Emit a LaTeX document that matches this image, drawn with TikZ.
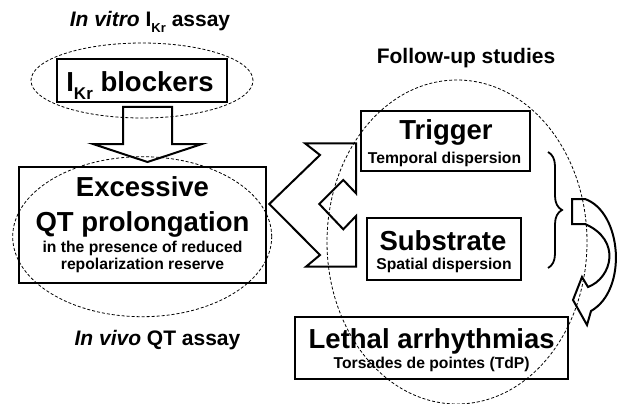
\documentclass[tikz,border=0pt]{standalone}
\usepackage{fontspec}
\setmainfont{Liberation Sans}
\usetikzlibrary{decorations.pathreplacing}
\newcommand{\fsz}[1]{\fontsize{#1}{#1}\selectfont}
\tikzset{
  box/.style={draw, line width=2pt, inner sep=0pt},
  lbl/.style={anchor=base, inner sep=0pt, font=\bfseries},
  zone/.style={dash pattern=on 3pt off 2pt, line width=0.8pt},
  blk/.style={draw, line width=2pt, line join=miter, fill=white}
}
\begin{document}
\begin{tikzpicture}[x=1pt, y=-1pt]
\useasboundingbox (0,0) rectangle (619,404);
\node[lbl] at (150,27) (vitro) {\fsz{21}\textit{In vitro} I\raisebox{-0.25em}{\fsz{13}Kr} assay};
\node[lbl] at (157.5,345) (vivo) {\fsz{21}\textit{In vivo} QT assay};
\node[lbl] at (466,64) (follow) {\fsz{21}Follow-up studies};
\node[box, minimum width=170pt, minimum height=43pt] at (142,80.5) (blockers) {};
\node[lbl] at (140,91.7) (blockerstxt) {\fsz{27.5}I\raisebox{-0.28em}{\fsz{17}Kr} blockers};
\node[box, minimum width=247pt, minimum height=116pt] at (142.5,225) (excess) {};
\node[lbl] at (142.5,196.7) (excess1) {\fsz{27.5}Excessive};
\node[lbl] at (142.5,231.7) (excess2) {\fsz{27.5}QT prolongation};
\node[lbl] at (142.5,252.7) (excess3) {\fsz{15.7}in the presence of reduced};
\node[lbl] at (142.5,269.5) (excess4) {\fsz{15.7}repolarization reserve};
\node[box, minimum width=169pt, minimum height=60pt] at (445.5,141) (trigger) {};
\node[lbl] at (446,139.3) (trigger1) {\fsz{27.5}Trigger};
\node[lbl] at (444.5,163.3) (trigger2) {\fsz{15.7}Temporal dispersion};
\node[box, minimum width=154pt, minimum height=62pt] at (444,249) (substrate) {};
\node[lbl] at (443,250) (substrate1) {\fsz{27.5}Substrate};
\node[lbl] at (444,269.3) (substrate2) {\fsz{15.7}Spatial dispersion};
\node[box, minimum width=273pt, minimum height=62pt] at (431.5,348) (lethal) {};
\node[lbl] at (431.7,348.3) (lethal1) {\fsz{27.5}Lethal arrhythmias};
\node[lbl] at (431.7,368.3) (lethal2) {\fsz{15.7}Torsades de pointes (TdP)};
\draw[blk] (123,107) -- (172,107) -- (172,144) -- (202,144) -- (147.5,162) -- (93,144) -- (123,144) -- cycle;
\draw[blk] (305,143.3) -- (356,143.3) -- (356,193.3) -- (343.3,180) -- (319.3,204) -- (343.3,229.3) -- (356,216) -- (356,266.7) -- (306,266.7) -- (320,255) -- (269.3,204) -- (320,155) -- cycle;
\draw[line width=1.8pt, decorate, decoration={brace, amplitude=14pt}] (548,152) -- (548,268);
\draw[blk] (572,199) -- (585,199) .. controls (622,212) and (628,290) .. (591,311) -- (587,325) -- (573,300) -- (582,277) -- (588,287) .. controls (612,278) and (622,240) .. (585,224) -- (572,224) -- cycle;
\draw[zone] (142,80.5) ellipse [x radius=111pt, y radius=37.5pt];
\draw[zone] (142.2,236.7) ellipse [x radius=129.5pt, y radius=80pt];
\draw[zone] (457,242) ellipse [x radius=130pt, y radius=162pt];
\end{tikzpicture}
\end{document}
